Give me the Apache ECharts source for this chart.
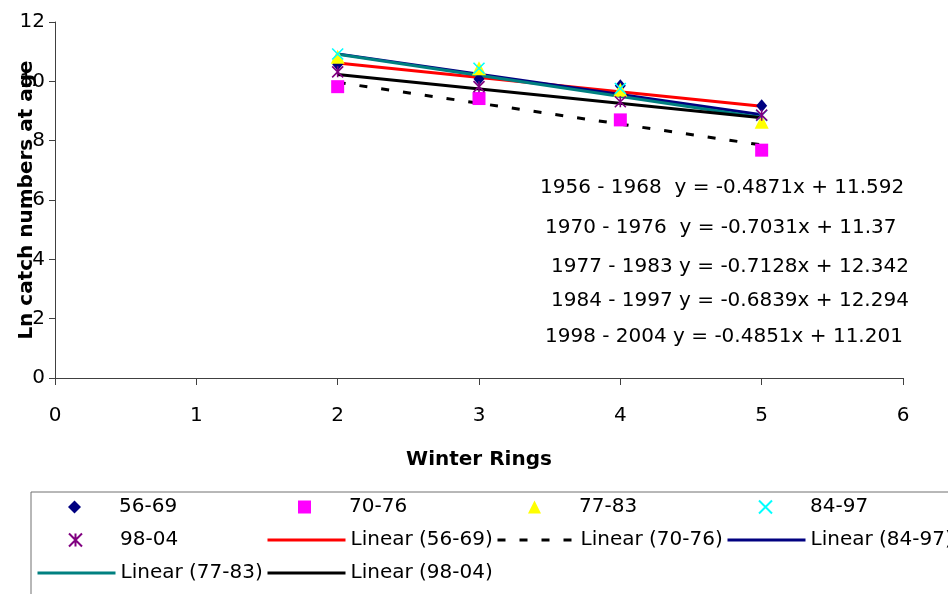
<!DOCTYPE html>
<html lang="en">
<head>
    <meta charset="UTF-8">
    <title>Winter Rings</title>
    <script type="text/javascript" src="https://cdn.jsdelivr.net/npm/echarts@6/dist/echarts.min.js"></script>
    <style>
        html, body { margin: 0; padding: 0; background: #fff; }
        #Echart1 { width: 948px; height: 594px; }
    </style>
</head>
<body>
<div id="Echart1"></div>

<script>
    // winter rings on x
    var rings = [2, 3, 4, 5];
    // ln catch numbers per period
    var s5669 = [10.58, 10.08, 9.85, 9.18];
    var s7076 = [9.82, 9.42, 8.70, 7.68];
    var s7783 = [10.83, 10.44, 9.72, 8.64];
    var s8497 = [10.92, 10.44, 9.76, 8.85];
    var s9804 = [10.32, 9.82, 9.31, 8.86];

    // trend line ends at x=2 and x=5
    var trendX = [2, 5];
    var t5669 = [10.618, 9.157];
    var t7076 = [9.964, 7.855];
    var t7783 = [10.916, 8.778];
    var t8497 = [10.926, 8.875];
    var t9804 = [10.231, 8.776];

    var xTicks = [0, 6, 1];   // min, max, step
    var yTicks = [0, 12, 2];

    var equationLabels = [
        '1956 - 1968  y = -0.4871x + 11.592',
        '1970 - 1976  y = -0.7031x + 11.37',
        '1977 - 1983 y = -0.7128x + 12.342',
        '1984 - 1997 y = -0.6839x + 12.294',
        '1998 - 2004 y = -0.4851x + 11.201'
    ];

    var FONT = 'DejaVu Sans';

    function pairs(xs, ys) {
        var out = [];
        for (var i = 0; i < xs.length; i++) out.push([xs[i], ys[i]]);
        return out;
    }

    function pts(name, ys, symbol, size, color, stroke) {
        var style = {color: color, opacity: 1};
        if (stroke) {
            style.borderColor = color;
            style.borderWidth = 1.6;
        }
        return {
            name: name,
            type: 'scatter',
            symbol: symbol,
            symbolSize: size,
            z: 5,
            itemStyle: style,
            data: pairs(rings, ys)
        };
    }

    function trend(name, ys, color, dashed) {
        return {
            name: name,
            type: 'line',
            symbol: 'none',
            z: 3,
            lineStyle: {color: color, width: 3, type: dashed ? [8, 14] : 'solid'},
            itemStyle: {color: color},
            data: pairs(trendX, ys)
        };
    }

    var xPath = 'path://M0,0L10,10M10,0L0,10';
    var starPath = 'path://M0,0L10,10M10,0L0,10M5,0L5,10';

    // legend cells: name, column, row, is a trend line
    var legendLayout = [
        ['56-69', 0, 0, false], ['70-76', 1, 0, false], ['77-83', 2, 0, false], ['84-97', 3, 0, false],
        ['98-04', 0, 1, false], ['Linear (56-69)', 1, 1, true], ['Linear (70-76)', 2, 1, true], ['Linear (84-97)', 3, 1, true],
        ['Linear (77-83)', 0, 2, true], ['Linear (98-04)', 1, 2, true]
    ];
    var colLeft = [36, 266, 496, 726];
    var rowMid = [509, 542, 575];
    var legends = legendLayout.map(function (c) {
        if (c[3]) {
            return {
                data: [c[0]],
                left: colLeft[c[1]],
                top: rowMid[c[2]] - 12,
                padding: 0,
                itemWidth: 78,
                itemHeight: 14,
                itemStyle: {opacity: 0},
                lineStyle: {width: 3},
                textStyle: {fontFamily: FONT, fontSize: 20, color: '#000'}
            };
        }
        return {
            data: [c[0]],
            left: colLeft[c[1]] + 32,
            top: rowMid[c[2]] - 12,
            padding: 0,
            itemWidth: 13,
            itemHeight: 13,
            textStyle: {fontFamily: FONT, fontSize: 20, color: '#000', padding: [0, 0, 0, 33]}
        };
    });

    var graphics = [{
        type: 'rect',
        shape: {x: 31, y: 492, width: 1000, height: 200},
        style: {fill: 'none', stroke: '#707070', lineWidth: 1},
        silent: true
    }];
    var eqPos = [[540, 188], [545, 228], [551, 267], [551, 301], [545, 337]];
    equationLabels.forEach(function (t, i) {
        graphics.push({
            type: 'text',
            x: eqPos[i][0],
            y: eqPos[i][1],
            style: {text: t, font: '20px "' + FONT + '"', fill: '#000', verticalAlign: 'middle'}
        });
    });

    var myChart = echarts.init(document.getElementById('Echart1'));
    var option = {
        backgroundColor: '#fff',
        animation: false,
        textStyle: {fontFamily: FONT},
        grid: {left: 55, right: 45, top: 22, bottom: 216, outerBoundsMode: 'none'},
        legend: legends,
        xAxis: {
            type: 'value',
            min: xTicks[0], max: xTicks[1], interval: xTicks[2],
            name: 'Winter Rings',
            nameLocation: 'middle',
            nameGap: 72,
            nameMoveOverlap: false,
            nameTextStyle: {fontFamily: FONT, fontSize: 20, fontWeight: 'bold', color: '#000'},
            axisLine: {show: true, lineStyle: {color: '#404040', width: 1}},
            axisTick: {show: true, inside: false, length: 7, lineStyle: {color: '#404040'}},
            axisLabel: {margin: 28, fontFamily: FONT, fontSize: 20, color: '#000'},
            splitLine: {show: false}
        },
        yAxis: {
            type: 'value',
            min: yTicks[0], max: yTicks[1], interval: yTicks[2],
            name: 'Ln catch numbers at age',
            nameLocation: 'middle',
            nameRotate: 90,
            nameGap: 18,
            nameMoveOverlap: false,
            nameTextStyle: {fontFamily: FONT, fontSize: 20, fontWeight: 'bold', color: '#000'},
            axisLine: {show: true, lineStyle: {color: '#404040', width: 1}},
            axisTick: {show: true, inside: false, length: 6, lineStyle: {color: '#404040'}},
            axisLabel: {margin: 10, fontFamily: FONT, fontSize: 20, color: '#000'},
            splitLine: {show: false}
        },
        graphic: graphics,
        series: [
            trend('Linear (56-69)', t5669, '#FF0000', false),
            trend('Linear (70-76)', t7076, '#000000', true),
            trend('Linear (84-97)', t8497, '#000080', false),
            trend('Linear (77-83)', t7783, '#008080', false),
            trend('Linear (98-04)', t9804, '#000000', false),
            pts('56-69', s5669, 'diamond', [11, 13], '#000080', false),
            pts('70-76', s7076, 'rect', 13, '#FF00FF', false),
            pts('77-83', s7783, 'triangle', 14, '#FFFF00', false),
            pts('84-97', s8497, xPath, 11, '#00FFFF', true),
            pts('98-04', s9804, starPath, 11, '#800080', true)
        ]
    };
    myChart.setOption(option);
</script>
</body>
</html>
